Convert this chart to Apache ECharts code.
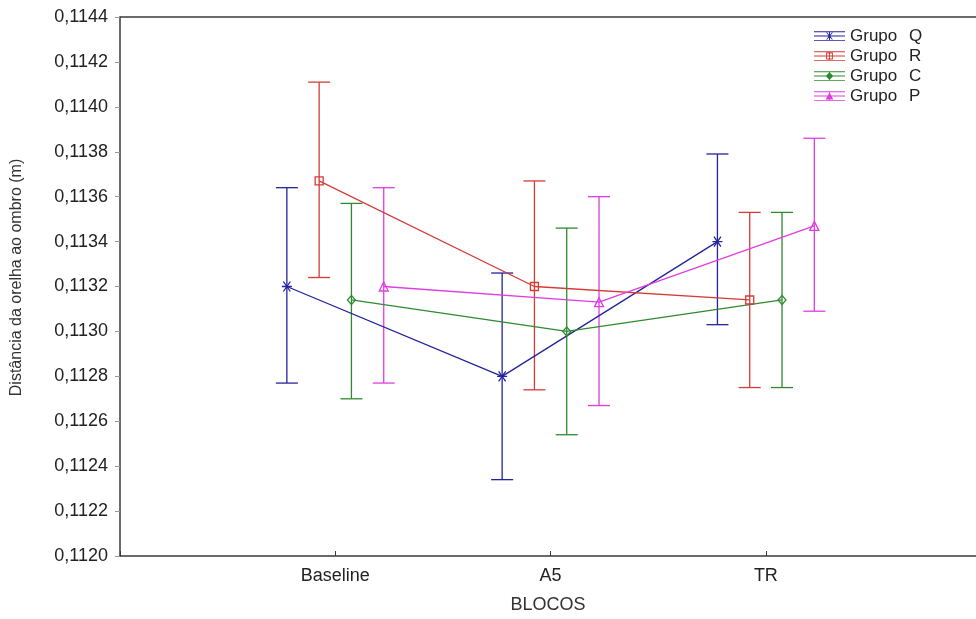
<!DOCTYPE html>
<html>
<head>
<meta charset="utf-8">
<script src="https://cdn.jsdelivr.net/npm/echarts@6/dist/echarts.min.js"></script>
<style>
html,body{margin:0;padding:0;background:#fff;}
#chart{width:976px;height:619px;}
</style>
</head>
<body>
<div id="chart"></div>
<script>
// ---- data ----
const categories = ['Baseline', 'A5', 'TR'];
const groupNames = ['Grupo Q', 'Grupo R', 'Grupo C', 'Grupo P'];
const yTicksMin = 0.1120, yTicksMax = 0.1144, yTickStep = 0.0002;

const meanQ = [0.11320, 0.11280, 0.11340];
const lowQ  = [0.11277, 0.11234, 0.11303];
const highQ = [0.11364, 0.11326, 0.11379];

const meanR = [0.11367, 0.11320, 0.11314];
const lowR  = [0.11324, 0.11274, 0.11275];
const highR = [0.11411, 0.11367, 0.11353];

const meanC = [0.11314, 0.11300, 0.11314];
const lowC  = [0.11270, 0.11254, 0.11275];
const highC = [0.11357, 0.11346, 0.11353];

const meanP = [0.11320, 0.11313, 0.11347];
const lowP  = [0.11277, 0.11267, 0.11309];
const highP = [0.11364, 0.11360, 0.11386];

// ---- styling ----
const colors = ['#23239e', '#d43c36', '#2f8a2f', '#e03de0'];
const symbols = [
  'path://M0,5 L10,5 M1.5,1.5 L8.5,8.5 M8.5,1.5 L1.5,8.5',
  'rect',
  'diamond',
  'triangle'
];
const symbolSizes = [10, 8, [8, 9], 9];
const base = 'M0,0h32v1h-32z M0,4.5h32v1h-32z M0,9h32v1h-32z M15.5,0h1v10h-1z ';
const legendIcons = [
  'path://' + base + 'M12.5,1.5L13.6,1.5L19.5,8.5L18.4,8.5Z M18.4,1.5L19.5,1.5L13.6,8.5L12.5,8.5Z',
  'path://' + base + 'M12.5,1.5h7v1h-7z M12.5,7.5h7v1h-7z M12.5,1.5h1v7h-1z M18.5,1.5h1v7h-1z',
  'path://' + base + 'M16,1L20,5L16,9L12,5Z',
  'path://' + base + 'M16,1L20,8.5L12,8.5Z'
];

const means = [meanQ, meanR, meanC, meanP];
const lows = [lowQ, lowR, lowC, lowP];
const highs = [highQ, highR, highC, highP];
const spacing = 0.15;
const xMax = 3.976; // frame extends just past the right edge of the picture

const series = [];
groupNames.forEach((name, i) => {
  const off = (i - 1.5) * spacing;
  const color = colors[i];
  series.push({
    type: 'custom',
    name: name,
    z: 2,
    data: categories.map((c, j) => [j + 1 + off, lows[i][j], highs[i][j]]),
    encode: { x: 0, y: [1, 2] },
    renderItem: function (params, api) {
      const x = api.value(0);
      const pLo = api.coord([x, api.value(1)]);
      const pHi = api.coord([x, api.value(2)]);
      const hw = 11;
      const st = { stroke: color, lineWidth: 1.3 };
      return {
        type: 'group',
        children: [
          { type: 'line', shape: { x1: pLo[0], y1: pLo[1], x2: pHi[0], y2: pHi[1] }, style: st },
          { type: 'line', shape: { x1: pLo[0] - hw, y1: pLo[1], x2: pLo[0] + hw, y2: pLo[1] }, style: st },
          { type: 'line', shape: { x1: pHi[0] - hw, y1: pHi[1], x2: pHi[0] + hw, y2: pHi[1] }, style: st }
        ]
      };
    }
  });
  series.push({
    type: 'line',
    name: name,
    z: 3,
    data: categories.map((c, j) => [j + 1 + off, means[i][j]]),
    symbol: symbols[i],
    symbolSize: symbolSizes[i],
    showSymbol: true,
    lineStyle: { color: color, width: 1.3 },
    itemStyle: { color: 'rgba(255,255,255,0)', borderColor: color, borderWidth: 1.3 }
  });
});

const axisColor = '#3a3a3a';
const fontFam = '"Liberation Sans", Arial, sans-serif';

const option = {
  backgroundColor: '#ffffff',
  animation: false,
  grid: { left: 120, top: 17, right: 0, height: 540 },
  legend: {
    left: 814,
    top: 26,
    padding: 0,
    orient: 'vertical',
    itemWidth: 31,
    itemHeight: 10,
    itemGap: 0,
    selectedMode: false,
    data: groupNames.map((n, i) => ({
      name: n,
      icon: legendIcons[i],
      itemStyle: { color: colors[i], borderWidth: 0, borderColor: colors[i] }
    })),
    formatter: function (n) {
      const parts = n.split(' ');
      return '{a|' + parts[0] + '}{b|' + parts[1] + '}';
    },
    textStyle: {
      fontFamily: fontFam,
      fontSize: 17,
      color: '#222',
      lineHeight: 20,
      rich: {
        a: { width: 59, fontSize: 17, fontFamily: fontFam, color: '#222', lineHeight: 20 },
        b: { fontSize: 17, fontFamily: fontFam, color: '#222', lineHeight: 20 }
      }
    }
  },
  xAxis: [
    {
      type: 'value',
      min: 0,
      max: xMax,
      interval: 1,
      name: 'BLOCOS',
      nameLocation: 'middle',
      nameGap: 40,
      nameTextStyle: { fontFamily: fontFam, fontSize: 18, color: '#333' },
      axisLine: { lineStyle: { color: axisColor, width: 1.5 } },
      axisTick: { inside: true, length: 5, lineStyle: { color: axisColor } },
      splitLine: { show: false },
      axisLabel: {
        margin: 11,
        fontFamily: fontFam,
        fontSize: 18,
        color: '#222',
        showMaxLabel: false,
        formatter: function (v) { return categories[v - 1] || ''; }
      }
    },
    {
      type: 'value',
      position: 'top',
      min: 0,
      max: xMax,
      axisLine: { show: true, lineStyle: { color: axisColor, width: 1.5 } },
      axisTick: { show: false },
      axisLabel: { show: false },
      splitLine: { show: false }
    }
  ],
  yAxis: [
    {
      type: 'value',
      min: yTicksMin,
      max: yTicksMax,
      interval: yTickStep,
      name: 'Distância da orelha ao ombro (m)',
      nameLocation: 'middle',
      nameGap: 95,
      nameTextStyle: { fontFamily: fontFam, fontSize: 16, color: '#333', padding: [0, 0, 0, 18] },
      axisLine: { show: true, lineStyle: { color: axisColor, width: 1.5 } },
      axisTick: { show: true, length: 4, lineStyle: { color: axisColor } },
      splitLine: { show: false },
      axisLabel: {
        margin: 12,
        fontFamily: fontFam,
        fontSize: 18,
        color: '#222',
        formatter: function (v) { return v.toFixed(4).replace('.', ','); }
      }
    },
    {
      type: 'value',
      position: 'right',
      min: yTicksMin,
      max: yTicksMax,
      interval: yTickStep,
      axisLine: { show: false },
      axisTick: { show: true, inside: true, length: 5, lineStyle: { color: '#999' } },
      axisLabel: { show: false },
      splitLine: { show: false }
    }
  ],
  series: series
};

const chart = echarts.init(document.getElementById('chart'), null, { renderer: 'canvas' });
chart.setOption(option);
</script>
</body>
</html>
